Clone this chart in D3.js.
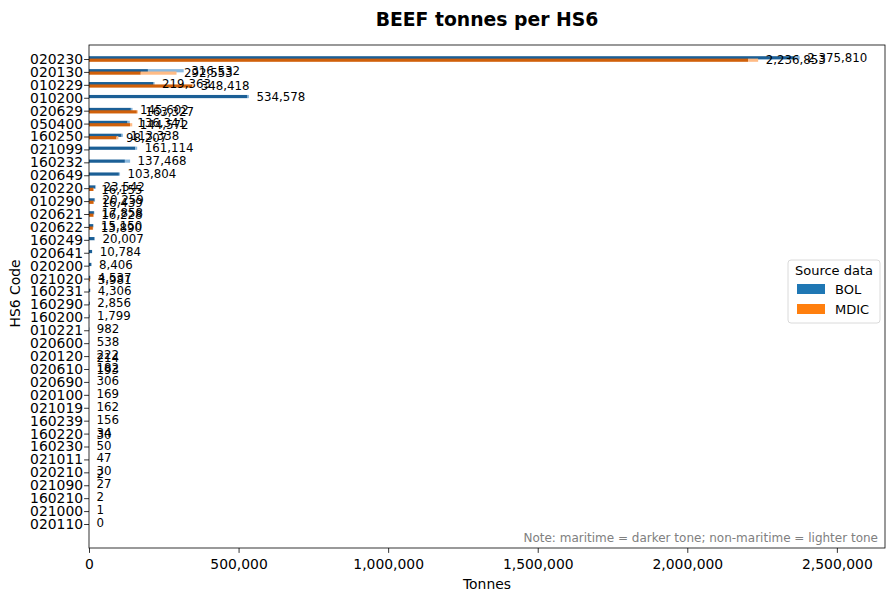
<!DOCTYPE html>
<html><head><meta charset="utf-8">
<script src="https://cdn.jsdelivr.net/npm/d3@7"></script>
<style>body{margin:0;background:#fff}svg{display:block;font-family:"DejaVu Sans",sans-serif}</style>
</head><body><svg id="c" width="895" height="600"></svg>
<script>
const codes = ["020230","020130","010229","010200","020629","050400","160250","021099","160232","020649","020220","010290","020621","020622","160249","020641","020200","021020","160231","160290","160200","010221","020600","020120","020610","020690","020100","021019","160239","160220","160230","021011","020210","021090","160210","021000","020110"];
const bolTotal    = [2375810,316532,219363,534578,145602,136341,113338,161114,137468,103804,23542,20259,17858,15150,20007,10784,8406,4537,4306,2856,1799,982,538,222,182,306,169,162,156,34,50,47,30,27,2,1,0];
const bolMaritime = [2358000,197000,216000,530000,140000,129000,109000,155000,120000,100000,21000,19000,16500,14000,18500,10000,8000,4200,4000,2700,1700,900,500,200,170,280,160,150,150,30,45,45,28,25,2,1,0];
const mdicTotal    = [2236853,292553,348418,null,163327,144572,98207,null,null,null,16155,16439,16228,13890,null,null,null,3981,null,null,null,null,null,214,193,null,null,null,null,30,null,null,2,null,null,null,null];
const mdicMaritime = [2203000,173000,345000,null,160000,137000,92000,null,null,null,15000,15500,15000,13000,null,null,null,3700,null,null,null,null,null,200,180,null,null,null,null,28,null,null,2,null,null,null,null];
const xTicks = [0,500000,1000000,1500000,2000000,2500000];
const seriesNames = ["BOL","MDIC"];

const svg = d3.select("#c");
const L=89,R=885,T=45,B=548;
const x = d3.scaleLinear().domain([0, d3.max(bolTotal)*1.12]).range([L,R]);
const y = d3.scaleLinear().domain([0, codes.length-1]).range([59,524]);
const fmt = d3.format(",");
const colors = {BOL:{dark:"#1b5f96",light:"#8ab8de",base:"#1f77b4"}, MDIC:{dark:"#d0600a",light:"#ffbb85",base:"#ff7f0e"}};
const off = 1.2, bh = 3.2;

svg.append("rect").attr("width",895).attr("height",600).attr("fill","#fff");

const g = svg.append("g");
function drawSeries(name,tot,mar,sign){
  codes.forEach((c,i)=>{
    if(tot[i]==null) return;
    const cy = y(i)+sign*off;
    g.append("rect").attr("x",x(0)).attr("y",cy-bh/2).attr("width",x(mar[i])-x(0)).attr("height",bh).attr("fill",colors[name].dark);
    g.append("rect").attr("x",x(mar[i])).attr("y",cy-bh/2).attr("width",Math.max(0,x(tot[i])-x(mar[i]))).attr("height",bh).attr("fill",colors[name].light);
  });
}
drawSeries("BOL",bolTotal,bolMaritime,-1);
drawSeries("MDIC",mdicTotal,mdicMaritime,1);
function labels(tot,sign){
  codes.forEach((c,i)=>{
    if(tot[i]==null) return;
    g.append("text").attr("x",x(tot[i])+7.5).attr("y",y(i)+sign*off).attr("dy","0.36em")
      .attr("font-size",11.8).attr("fill","#000").text(fmt(tot[i]));
  });
}
labels(bolTotal,-1);
labels(mdicTotal,1);

// axes
const xa = svg.append("g").attr("transform",`translate(0,${B})`)
  .call(d3.axisBottom(x).tickValues(xTicks).tickFormat(fmt).tickSize(4.9).tickPadding(6));
xa.select(".domain").remove();
xa.selectAll("text").attr("font-size",13.9).attr("font-family","DejaVu Sans").attr("fill","#000");
xa.selectAll("line").attr("stroke","#000").attr("stroke-width",0.8);

const ya = svg.append("g").attr("transform",`translate(${L},0)`)
  .call(d3.axisLeft(d3.scalePoint().domain(codes).range([59,524])).tickSize(4.9).tickPadding(1));
ya.select(".domain").remove();
ya.selectAll("text").attr("font-size",13.9).attr("font-family","DejaVu Sans").attr("fill","#000");
ya.selectAll("line").attr("stroke","#000").attr("stroke-width",0.8);

svg.append("rect").attr("x",L).attr("y",T).attr("width",R-L).attr("height",B-T)
  .attr("fill","none").attr("stroke","#000").attr("stroke-width",0.8);

svg.append("text").attr("x",(L+R)/2).attr("y",26).attr("text-anchor","middle")
  .attr("font-size",18.8).attr("font-weight","bold").text("BEEF tonnes per HS6");
svg.append("text").attr("x",(L+R)/2).attr("y",589).attr("text-anchor","middle")
  .attr("font-size",13.9).text("Tonnes");
svg.append("text").attr("transform",`translate(20,${(T+B)/2 - 3}) rotate(-90)`).attr("text-anchor","middle")
  .attr("font-size",13.9).text("HS6 Code");

svg.append("text").attr("x",878).attr("y",542).attr("text-anchor","end")
  .attr("font-size",12).attr("fill","#808080").text("Note: maritime = darker tone; non-maritime = lighter tone");

// legend
const lg = svg.append("g");
lg.append("rect").attr("x",788).attr("y",260).attr("width",92).attr("height",63).attr("rx",3)
  .attr("fill","#fff").attr("fill-opacity",0.8).attr("stroke","#d0d0d0").attr("stroke-width",0.8);
lg.append("text").attr("x",834).attr("y",275).attr("text-anchor","middle").attr("font-size",13).text("Source data");
seriesNames.forEach((s,i)=>{
  lg.append("rect").attr("x",797).attr("y",284+i*20).attr("width",28).attr("height",10).attr("fill",colors[s].base);
  lg.append("text").attr("x",835).attr("y",294+i*20).attr("font-size",13).text(s);
});
</script></body></html>
